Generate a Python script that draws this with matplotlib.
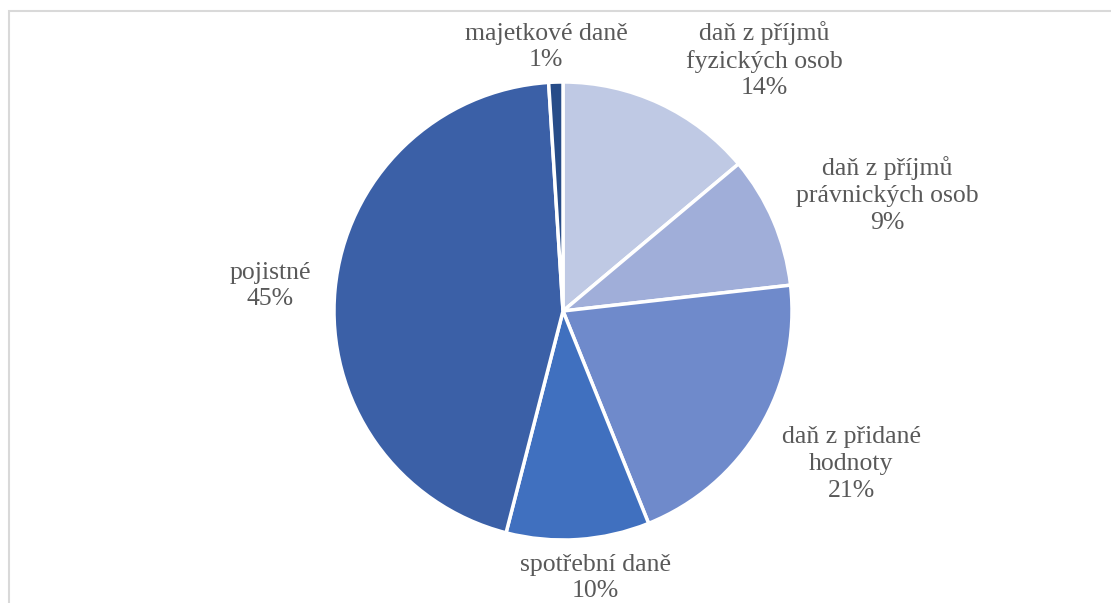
import matplotlib
matplotlib.use("Agg")
import matplotlib.pyplot as plt
from matplotlib.patches import Rectangle

categories = ["daň z příjmů\nfyzických osob", "daň z příjmů\nprávnických osob",
              "daň z přidané\nhodnoty", "spotřební daně", "pojistné", "majetkové daně"]
values = [13.9, 9.3, 20.7, 10.1, 45.0, 1.0]
colors = ["#BFC9E4", "#A0AED9", "#6F8ACB", "#4070BF", "#3B60A7", "#274C88"]

# label anchor positions in pixels (layout)
label_px = [(764, 60), (887, 195), (851, 464), (595, 578), (270, 286), (546, 47)]

W, H, DPI = 1111, 603, 100
cx, cy, R = 563, 311, 229

fig = plt.figure(figsize=(W / DPI, H / DPI), dpi=DPI)
ax = fig.add_axes([0, 0, 1, 1])

ax.pie(values, colors=colors, startangle=90, counterclock=False, radius=1.0,
       wedgeprops=dict(edgecolor="white", linewidth=2.5))
ax.set_xlim(-cx / R, (W - cx) / R)
ax.set_ylim(-(H - cy) / R, cy / R)
ax.set_aspect("equal")
ax.axis("off")

total = sum(values)
for cat, v, (px, py) in zip(categories, values, label_px):
    ax.text((px - cx) / R, (cy - py) / R, f"{cat}\n{round(v / total * 100):.0f}%",
            ha="center", va="center", fontsize=18.5, family="Liberation Serif",
            color="#595959", linespacing=1.27)

fig.patches.append(Rectangle((9 / W, -0.1), 1.2, (H - 11) / H + 0.1, transform=fig.transFigure,
                             fill=False, edgecolor="#D9D9D9", linewidth=1.5))

fig.savefig("out.png", dpi=DPI)
